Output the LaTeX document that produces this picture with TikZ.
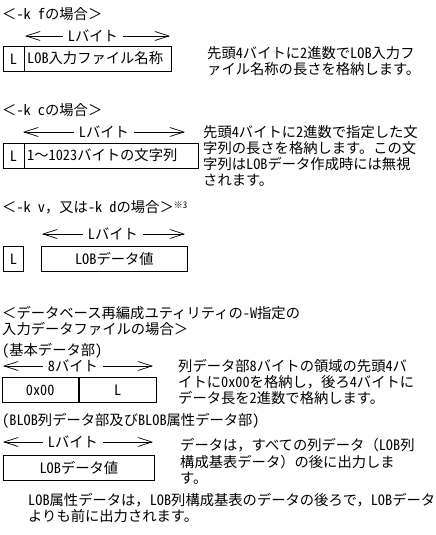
\documentclass[tikz,border=0pt]{standalone}
\usepackage{fontspec}
\newfontfamily\jp{Noto Sans CJK JP}
\newfontfamily\jph[RawFeature=+hwid]{Noto Sans CJK JP}
\newcommand\hw[1]{{\jph #1}}
\usetikzlibrary{arrows.meta}
\begin{document}
\begin{tikzpicture}[x=1pt,y=-1pt,
  every node/.style={font=\jp\fontsize{14.3}{16}\selectfont, inner sep=0pt, text height=12.3pt, text depth=1.7pt},
  txt/.style={anchor=west},
  fld/.style={draw, line width=0.8pt, anchor=north west, minimum height=25pt},
  dimline/.style={{Straight Barb[length=14pt,width=9pt]}-{Straight Barb[length=14pt,width=9pt]}, line width=0.7pt},
  dimlbl/.style={fill=white, inner xsep=5pt}
]
\useasboundingbox (0,0) rectangle (436,535);

% ---- section 1
\node[txt] (h1) at (2,14) {＜\hw{-k f}の場合＞};
\coordinate (a1s) at (25,36); \coordinate (a1e) at (170,36);
\draw[dimline] (a1s) -- (a1e);
\node[dimlbl] (l1) at (93,36) {\hw{L}バイト};
\node[fld, minimum width=21pt] (b1l) at (2.5,46) {\hw{L}};
\node[fld, minimum width=146.5pt] (b1r) at (b1l.north east) {};
\node[txt] (b1t) at (27,58.5) {\hw{LOB}入力ファイル名称};
\node[txt] (r1a) at (207,53) {先頭\hw{4}バイトに\hw{2}進数で\hw{LOB}入力フ};
\node[txt] (r1b) at (207,69) {ァイル名称の長さを格納します。};

% ---- section 2
\node[txt] (h2) at (2,110) {＜\hw{-k c}の場合＞};
\coordinate (a2s) at (23,132); \coordinate (a2e) at (185,132);
\draw[dimline] (a2s) -- (a2e);
\node[dimlbl] (l2) at (104,132) {\hw{L}バイト};
\node[fld, minimum width=21pt] (b2l) at (2.5,143) {\hw{L}};
\node[fld, minimum width=173.5pt] (b2r) at (b2l.north east) {};
\node[txt] (b2t) at (27,155.5) {\hw{1}〜\hw{1023}バイトの文字列};
\node[txt] (r2a) at (203,132) {先頭\hw{4}バイトに\hw{2}進数で指定した文};
\node[txt] (r2b) at (203,148) {字列の長さを格納します。この文};
\node[txt] (r2c) at (203,164) {字列は\hw{LOB}データ作成時には無視};
\node[txt] (r2d) at (203,180) {されます。};

% ---- section 3
\node[txt] (h3) at (2,207) {＜\hw{-k v}，又は\hw{-k d}の場合＞\raisebox{4pt}{\fontsize{9}{9}\selectfont ※\hw{3}}};
\coordinate (a3s) at (42,234); \coordinate (a3e) at (185,234);
\draw[dimline] (a3s) -- (a3e);
\node[dimlbl] (l3) at (113,234) {\hw{L}バイト};
\node[fld, minimum width=20pt] (b3l) at (3,246) {\hw{L}};
\node[fld, minimum width=146pt] (b3r) at (41,246) {\hw{LOB}データ値};

% ---- section 4
\node[txt] (h4a) at (2,313) {＜データベース再編成ユティリティの\hw{-W}指定の};
\node[txt] (h4b) at (2,329) {入力データファイルの場合＞};
\node[txt] (s4) at (2,350) {\hw{(}基本データ部\hw{)}};
\coordinate (a4s) at (3,366); \coordinate (a4e) at (153,366);
\draw[dimline] (a4s) -- (a4e);
\node[dimlbl] (l4) at (73,366) {\hw{8}バイト};
\node[fld, minimum width=76.5pt] (b4l) at (1.5,377) {\hw{0x00}};
\node[fld, minimum width=77pt] (b4r) at (b4l.north east) {\hw{L}};
\node[txt] (r4a) at (178,366) {列データ部\hw{8}バイトの領域の先頭\hw{4}バ};
\node[txt] (r4b) at (178,382) {イトに\hw{0x00}を格納し，後ろ\hw{4}バイトに};
\node[txt] (r4c) at (178,398) {データ長を\hw{2}進数で格納します。};

% ---- section 5
\node[txt] (s5) at (2,420) {\hw{(BLOB}列データ部及び\hw{BLOB}属性データ部\hw{)}};
\coordinate (a5s) at (3,442); \coordinate (a5e) at (153,442);
\draw[dimline] (a5s) -- (a5e);
\node[dimlbl] (l5) at (73,442) {\hw{L}バイト};
\node[fld, minimum width=151pt] (b5) at (3,455) {\hw{LOB}データ値};
\node[txt] (r5a) at (180,445) {データは，すべての列データ（\hw{LOB}列};
\node[txt] (r5b) at (180,462) {構成基表データ）の後に出力しま};
\node[txt] (r5c) at (180,478) {す。};

% ---- note
\node[txt] (n1) at (28,500) {\hw{LOB}属性データは，\hw{LOB}列構成基表のデータの後ろで，\hw{LOB}データ};
\node[txt] (n2) at (28,516) {よりも前に出力されます。};
\end{tikzpicture}
\end{document}
